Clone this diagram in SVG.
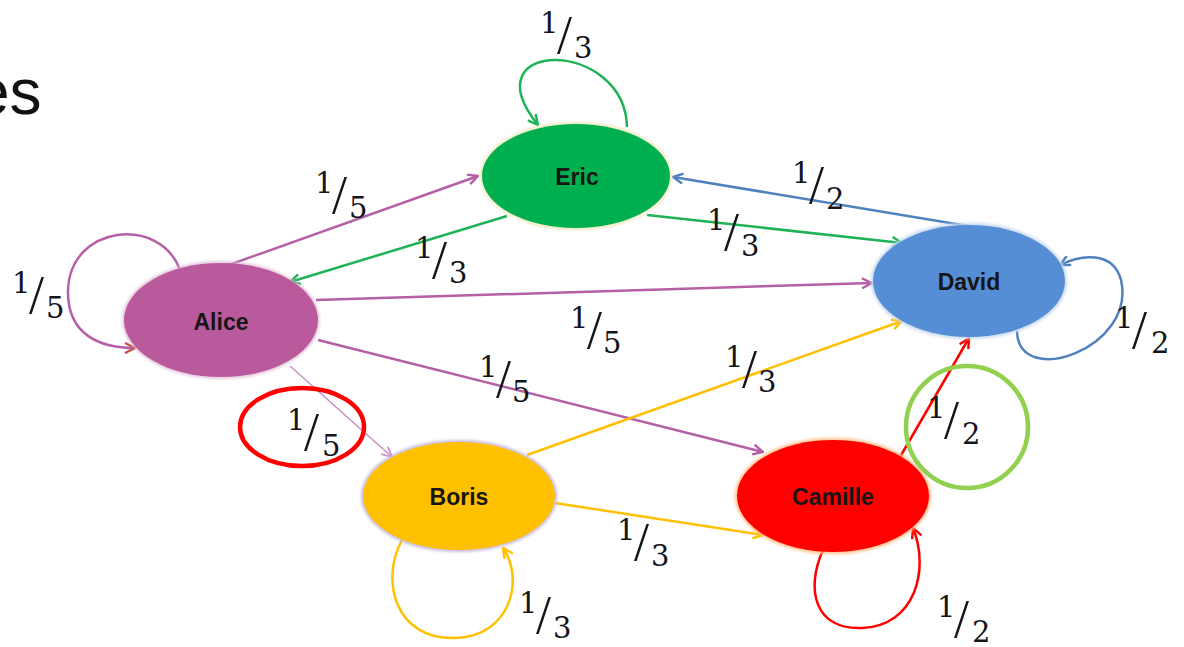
<svg xmlns="http://www.w3.org/2000/svg" width="1184" height="647" viewBox="0 0 1184 647">
  <style>
    .title { font-family: "Liberation Sans", Arial, sans-serif; font-size: 64px; fill: #111; }
    .name { font-family: "Liberation Sans", Arial, sans-serif; font-weight: bold; font-size: 23px; fill: #161616; text-anchor: middle; }
    .fr { font-family: "DejaVu Serif", "Liberation Serif", serif; font-size: 29px; fill: #14141c; }
    .fr .sl { font-family: "Liberation Serif", "Times New Roman", serif; font-size: 54px; }
    .edge { fill: none; stroke-width: 2.5; }
    .purple { stroke: #b55fa6; }
    .lilac { stroke: #c993c6; stroke-width: 1.6; }
    .green { stroke: #1fb257; }
    .blue { stroke: #4f81bd; }
    .yellow { stroke: #ffc000; }
    .red { stroke: #ff0000; }
    .mark { fill: none; }
  </style>
  <defs>
    <filter id="soft" x="-10%" y="-10%" width="120%" height="120%">
      <feGaussianBlur stdDeviation="1.4"/>
    </filter>
    <marker id="ah-purple" viewBox="0 0 12 12" refX="11" refY="6" markerWidth="12" markerHeight="12" orient="auto" markerUnits="userSpaceOnUse">
      <path d="M1,1 L11,6 L1,11" fill="none" stroke="#b55fa6" stroke-width="2.4"/>
    </marker>
    <marker id="ah-lilac" viewBox="0 0 12 12" refX="11" refY="6" markerWidth="12" markerHeight="12" orient="auto" markerUnits="userSpaceOnUse">
      <path d="M1,1 L11,6 L1,11" fill="none" stroke="#c993c6" stroke-width="1.8"/>
    </marker>
    <marker id="ah-brown" viewBox="0 0 12 12" refX="11" refY="6" markerWidth="12" markerHeight="12" orient="auto" markerUnits="userSpaceOnUse">
      <path d="M1,1 L11,6 L1,11" fill="none" stroke="#c0504d" stroke-width="2.4"/>
    </marker>
    <marker id="ah-green" viewBox="0 0 12 12" refX="11" refY="6" markerWidth="12" markerHeight="12" orient="auto" markerUnits="userSpaceOnUse">
      <path d="M1,1 L11,6 L1,11" fill="none" stroke="#1fb257" stroke-width="2.4"/>
    </marker>
    <marker id="ah-blue" viewBox="0 0 12 12" refX="11" refY="6" markerWidth="12" markerHeight="12" orient="auto" markerUnits="userSpaceOnUse">
      <path d="M1,1 L11,6 L1,11" fill="none" stroke="#4f81bd" stroke-width="2.4"/>
    </marker>
    <marker id="ah-yellow" viewBox="0 0 12 12" refX="11" refY="6" markerWidth="12" markerHeight="12" orient="auto" markerUnits="userSpaceOnUse">
      <path d="M1,1 L11,6 L1,11" fill="none" stroke="#ffc000" stroke-width="2.4"/>
    </marker>
    <marker id="ah-red" viewBox="0 0 12 12" refX="11" refY="6" markerWidth="12" markerHeight="12" orient="auto" markerUnits="userSpaceOnUse">
      <path d="M1,1 L11,6 L1,11" fill="none" stroke="#ff0000" stroke-width="2.4"/>
    </marker>
  </defs>

  <rect width="1184" height="647" fill="#ffffff"/>

  <!-- slide heading, running off the left edge -->
  <text class="title" x="-26" y="114">es</text>

  <!-- transitions -->
  <g id="connectors">
    <path class="edge purple" d="M226,266 L478,176" marker-end="url(#ah-purple)"/>
    <path class="edge green" d="M507,216 L290,282" marker-end="url(#ah-green)"/>
    <path class="edge purple" d="M316,300 L872,283" marker-end="url(#ah-purple)"/>
    <path class="edge purple" d="M318,340 L763,452" marker-end="url(#ah-purple)"/>
    <path class="edge lilac" d="M290,366 L392,457" marker-end="url(#ah-lilac)"/>
    <path class="edge green" d="M647,215 L902,243" marker-end="url(#ah-green)"/>
    <path class="edge blue" d="M968,226 L673,177" marker-end="url(#ah-blue)"/>
    <path class="edge yellow" d="M527,455 L902,321" marker-end="url(#ah-yellow)"/>
    <path class="edge yellow" d="M555,503 L763,535" marker-end="url(#ah-yellow)"/>
    <path class="edge red" d="M900,457 L969,338" marker-end="url(#ah-red)"/>

    <!-- self loops -->
    <path class="edge green" d="M627,127 C625,38 468,38 538,125" marker-end="url(#ah-green)"/>
    <path class="edge purple" d="M180,270 C160,215 70,225 68,290 C67,335 100,348 135,348" marker-end="url(#ah-brown)"/>
    <path class="edge blue" d="M1017,331 C1018,390 1137,348 1121,280 C1113,250 1080,255 1060,265" marker-end="url(#ah-blue)"/>
    <path class="edge yellow" d="M402,540 C380,580 395,640 455,638 C510,637 525,580 503,548" marker-end="url(#ah-yellow)"/>
    <path class="edge red" d="M823,550 C805,590 815,630 862,628 C915,626 930,570 913,528" marker-end="url(#ah-red)"/>
  </g>

  <!-- states -->
  <g id="eric">
    <ellipse cx="576" cy="176" rx="94" ry="52" fill="none" stroke="#efe8bf" stroke-width="4" filter="url(#soft)"/>
    <ellipse cx="576" cy="176" rx="94" ry="52" fill="#00b050"/>
    <text class="name" x="577" y="185">Eric</text>
  </g>
  <g id="alice">
    <ellipse cx="221" cy="320" rx="97" ry="57" fill="none" stroke="#dcb8d4" stroke-width="3" filter="url(#soft)"/>
    <ellipse cx="221" cy="320" rx="97" ry="57" fill="#ba5a9c"/>
    <text class="name" x="221" y="330">Alice</text>
  </g>
  <g id="david">
    <ellipse cx="969" cy="281" rx="96" ry="56" fill="none" stroke="#c7d8ee" stroke-width="4" filter="url(#soft)"/>
    <ellipse cx="969" cy="281" rx="96" ry="56" fill="#558ed5"/>
    <text class="name" x="969" y="290">David</text>
  </g>
  <g id="boris">
    <ellipse cx="459" cy="496" rx="96" ry="54" fill="none" stroke="#c7b8dc" stroke-width="4" filter="url(#soft)"/>
    <ellipse cx="459" cy="496" rx="96" ry="54" fill="#ffc000"/>
    <text class="name" x="459" y="505">Boris</text>
  </g>
  <g id="camille">
    <ellipse cx="833" cy="496" rx="96" ry="56" fill="none" stroke="#ffc08a" stroke-width="4" filter="url(#soft)"/>
    <ellipse cx="833" cy="496" rx="96" ry="56" fill="#ff0000"/>
    <text class="name" x="833" y="505">Camille</text>
  </g>

  <!-- transition probabilities -->
  <g id="probabilities">
    <text class="fr"><tspan x="540" y="33">1</tspan><tspan class="sl" x="557" y="53">/</tspan><tspan x="574" y="58">3</tspan></text>
    <text class="fr"><tspan x="315" y="193">1</tspan><tspan class="sl" x="332" y="213">/</tspan><tspan x="349" y="218">5</tspan></text>
    <text class="fr"><tspan x="415" y="258">1</tspan><tspan class="sl" x="432" y="278">/</tspan><tspan x="449" y="283">3</tspan></text>
    <text class="fr"><tspan x="792" y="183">1</tspan><tspan class="sl" x="809" y="203">/</tspan><tspan x="826" y="209">2</tspan></text>
    <text class="fr"><tspan x="707" y="230">1</tspan><tspan class="sl" x="724" y="250">/</tspan><tspan x="741" y="256">3</tspan></text>
    <text class="fr"><tspan x="12" y="293">1</tspan><tspan class="sl" x="29" y="313">/</tspan><tspan x="46" y="318">5</tspan></text>
    <text class="fr"><tspan x="570" y="328">1</tspan><tspan class="sl" x="587" y="348">/</tspan><tspan x="603" y="353">5</tspan></text>
    <text class="fr"><tspan x="479" y="377">1</tspan><tspan class="sl" x="496" y="397">/</tspan><tspan x="512" y="402">5</tspan></text>
    <text class="fr"><tspan x="725" y="367">1</tspan><tspan class="sl" x="742" y="387">/</tspan><tspan x="758" y="392">3</tspan></text>
    <text class="fr"><tspan x="1115" y="328">1</tspan><tspan class="sl" x="1132" y="348">/</tspan><tspan x="1151" y="353">2</tspan></text>
    <text class="fr"><tspan x="287" y="430">1</tspan><tspan class="sl" x="304" y="450">/</tspan><tspan x="322" y="456">5</tspan></text>
    <text class="fr"><tspan x="927" y="418">1</tspan><tspan class="sl" x="944" y="438">/</tspan><tspan x="962" y="444">2</tspan></text>
    <text class="fr"><tspan x="617" y="540">1</tspan><tspan class="sl" x="634" y="560">/</tspan><tspan x="651" y="566">3</tspan></text>
    <text class="fr"><tspan x="519" y="613">1</tspan><tspan class="sl" x="536" y="633">/</tspan><tspan x="553" y="638">3</tspan></text>
    <text class="fr"><tspan x="937" y="617">1</tspan><tspan class="sl" x="954" y="637">/</tspan><tspan x="972" y="642">2</tspan></text>
  </g>

  <!-- emphasis rings -->
  <ellipse class="mark" cx="302" cy="427" rx="62" ry="39" stroke="#ff0000" stroke-width="4.5"/>
  <circle class="mark" cx="967" cy="427" r="61" stroke="#92d050" stroke-width="4.5"/>
</svg>
